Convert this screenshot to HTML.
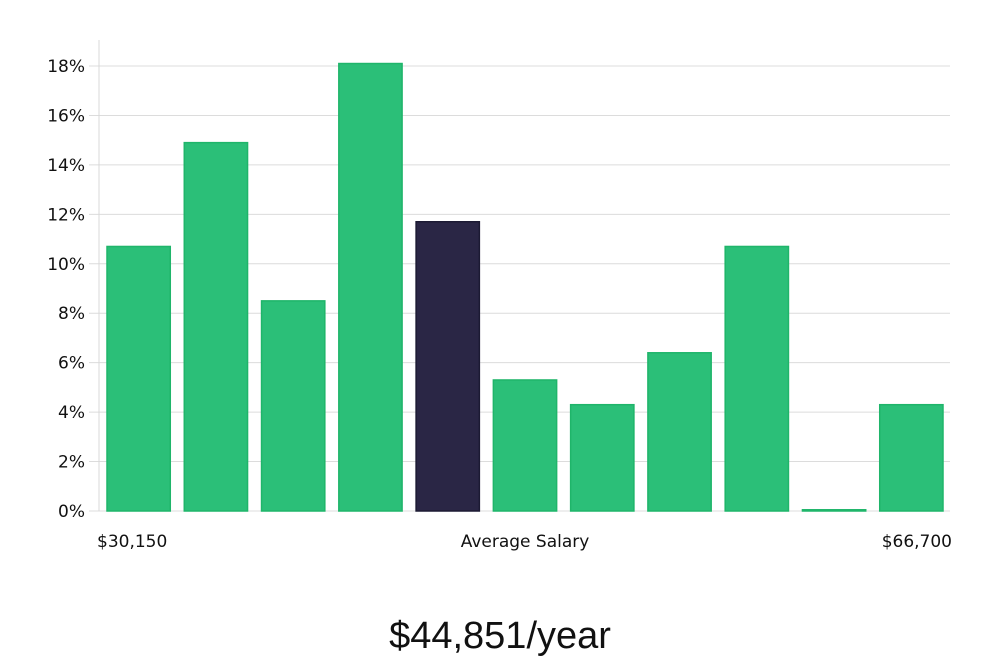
<!DOCTYPE html>
<html><head><meta charset="utf-8"><style>
body{margin:0;background:#fff;width:1000px;height:660px;overflow:hidden}
svg text{font-family:"DejaVu Sans","Liberation Sans",sans-serif;fill:#111}
</style></head><body>
<svg id="chart" width="1000" height="660" xmlns="http://www.w3.org/2000/svg">
<g id="grid"></g>
<g id="bars"></g>
<g id="yaxis"></g>
<line x1="99" y1="40" x2="99" y2="511" stroke="#d8d8d8" stroke-width="1"/>
<text x="97" y="547" font-size="17">$30,150</text>
<text x="525" y="547" font-size="17" text-anchor="middle">Average Salary</text>
<text x="952" y="547" font-size="17" text-anchor="end">$66,700</text>
<text x="500" y="648" font-size="38" text-anchor="middle" style="font-family:'Liberation Sans',sans-serif;font-weight:300">$44,851/year</text>
</svg>
<script>
const categories=["b1","b2","b3","b4","b5","b6","b7","b8","b9","b10","b11"];
const values=[10.7,14.9,8.5,18.1,11.7,5.3,4.3,6.4,10.7,0.05,4.3];
const highlightIndex=4;
const yTicks=[0,2,4,6,8,10,12,14,16,18];
const NS="http://www.w3.org/2000/svg";
const x0=100,x1=950,yBase=511,yTop18=66;
function y(v){return yBase-(v/18)*(yBase-yTop18);}
const band=(x1-x0)/categories.length;
function bx(i){return x0+band*i+7;}
const bw=band-14;
const grid=document.getElementById('grid'),bars=document.getElementById('bars'),ya=document.getElementById('yaxis');
yTicks.forEach(t=>{
 const l=document.createElementNS(NS,'line');
 
 
 l.setAttribute('x1',89);l.setAttribute('x2',950);l.setAttribute('y1',y(t));l.setAttribute('y2',y(t));
 l.setAttribute('stroke','#dcdcdc');l.setAttribute('stroke-width','1');
 grid.appendChild(l);
 const tx=document.createElementNS(NS,'text');
 
 
 tx.setAttribute('x',85);tx.setAttribute('y',y(t)+6);tx.setAttribute('text-anchor','end');tx.setAttribute('font-size','17');
 tx.textContent=t+'%';
 ya.appendChild(tx);
});
values.forEach((v,i)=>{
 const r=document.createElementNS(NS,'rect');
 
 
 const h=Math.max(yBase-y(v),1);
 r.setAttribute('x',bx(i));r.setAttribute('y',yBase-h);r.setAttribute('width',bw);r.setAttribute('height',h);
 const hi=i===highlightIndex;
 r.setAttribute('fill',hi?'#2a2645':'#2bbf78');
 r.setAttribute('stroke',hi?'#1c1a33':'#1fb56a');r.setAttribute('stroke-width','1.5');
 bars.appendChild(r);
});
</script>
</body></html>
